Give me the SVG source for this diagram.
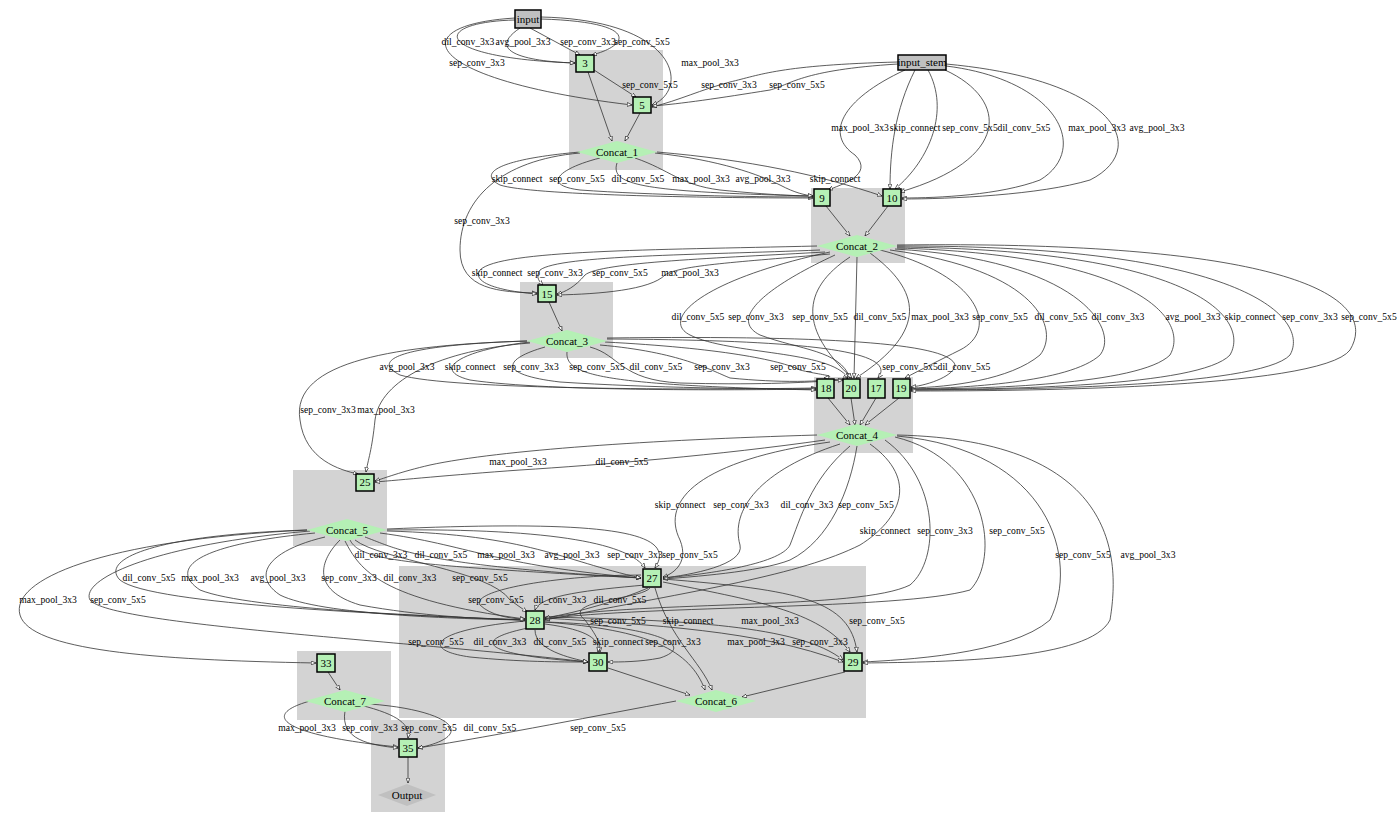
<svg xmlns="http://www.w3.org/2000/svg" width="1400" height="825" viewBox="0 0 1400 825">
<defs>
<marker id="a" viewBox="0 0 10 10" refX="10" refY="5" markerWidth="6" markerHeight="6" orient="auto"><path d="M0,1 L10,5 L0,9 Z" fill="#fff" stroke="#000" stroke-width="1.2"/></marker>
<style>
.c{fill:#d3d3d3}
.e path{fill:none;stroke:#333;stroke-width:0.8;marker-end:url(#a)}
.b{fill:#b5f0b5;stroke:#000;stroke-width:1.5}
.g{fill:#c0c0c0;stroke:#000;stroke-width:1.5}
.d{fill:#b5f0b5}
text{font-family:"Liberation Serif",serif;font-size:9.6px;fill:#000}
.l text{text-anchor:middle}
.n text{text-anchor:middle;font-size:11px}
</style>
</defs>
<rect width="1400" height="825" fill="#fff"/>
<g id="clusters">
<rect class="c" x="569" y="50" width="94" height="120"/>
<rect class="c" x="811" y="188" width="94" height="75"/>
<rect class="c" x="520" y="282" width="93" height="76"/>
<rect class="c" x="814" y="377" width="99" height="76"/>
<rect class="c" x="293" y="470" width="94" height="76"/>
<rect class="c" x="399" y="566" width="467" height="152"/>
<rect class="c" x="297" y="651" width="94" height="69"/>
<rect class="c" x="371" y="720" width="74" height="92"/>
</g>
<g id="connectors" class="e">
<path d="M515,20 C430,22 430,58 575,63"/>
<path d="M520,28 C480,55 540,62 575,63"/>
<path d="M530,28 L580,55"/>
<path d="M541,19 C640,22 630,45 592,55"/>
<path d="M515,18 C400,25 420,80 632,105"/>
<path d="M541,17 C680,20 690,90 652,105"/>
<path d="M594,70 L636,97"/>
<path d="M898,62 C780,65 760,75 730,82 C700,90 680,100 652,107"/>
<path d="M898,64 C800,70 790,85 770,90 C720,98 680,104 652,106"/>
<path d="M588,72 L612,141"/>
<path d="M640,113 L625,141"/>
<path d="M905,70 C840,100 825,135 855,155 C875,175 840,185 828,190"/>
<path d="M915,70 C895,110 890,150 890,189"/>
<path d="M928,70 C950,110 930,160 895,189"/>
<path d="M945,70 C1010,100 1010,160 900,192"/>
<path d="M946,66 C1060,80 1090,150 1040,180 C1000,195 940,198 902,198"/>
<path d="M946,64 C1120,80 1150,150 1090,180 C1040,195 950,199 902,199"/>
<path d="M580,152 C490,160 480,175 500,185 C530,195 700,198 813,198"/>
<path d="M600,158 C560,168 540,185 580,190 C650,195 750,197 813,197"/>
<path d="M617,163 C610,185 640,192 813,196"/>
<path d="M635,158 C670,170 680,185 720,190 C770,195 800,196 813,196"/>
<path d="M655,153 C720,160 760,175 780,185 C795,193 805,195 813,196"/>
<path d="M657,152 C750,160 820,175 882,196"/>
<path d="M580,153 C500,160 460,200 460,250 C460,290 500,292 537,293"/>
<path d="M826,206 L850,236"/>
<path d="M888,206 L865,236"/>
<path d="M817,246 C650,250 500,250 480,270 C470,285 510,292 537,294"/>
<path d="M820,250 C700,255 560,255 540,270 C535,278 540,282 543,285"/>
<path d="M825,252 C720,258 600,262 585,275 C575,287 565,292 557,294"/>
<path d="M830,254 C740,262 680,265 665,275 C650,290 600,294 557,295"/>
<path d="M830,252 C700,280 660,320 690,335 C730,355 830,350 848,378"/>
<path d="M835,255 C760,290 730,320 760,335 C800,350 840,350 850,378"/>
<path d="M850,257 C800,290 800,330 852,378"/>
<path d="M857,257 L854,378"/>
<path d="M870,253 C920,290 930,330 856,378"/>
<path d="M880,250 C980,275 1000,330 960,350 C940,360 920,370 905,378"/>
<path d="M890,250 C1040,270 1060,330 1040,355 C1010,380 950,387 911,388"/>
<path d="M895,249 C1080,260 1120,330 1100,355 C1070,383 960,388 911,389"/>
<path d="M897,248 C1140,255 1190,320 1170,355 C1140,385 980,389 911,389"/>
<path d="M897,247 C1200,250 1250,320 1230,355 C1200,387 1000,389 911,390"/>
<path d="M897,246 C1250,245 1310,320 1290,355 C1260,388 1000,390 911,390"/>
<path d="M897,245 C1300,240 1380,300 1350,350 C1320,390 1000,391 911,391"/>
<path d="M549,302 L562,331"/>
<path d="M527,341 C400,345 370,360 400,375 C450,390 700,390 816,388"/>
<path d="M530,342 C460,350 430,370 470,380 C550,392 750,390 816,389"/>
<path d="M545,347 C500,360 500,375 560,382 C650,388 760,389 816,389"/>
<path d="M567,352 C565,375 600,385 816,390"/>
<path d="M590,347 C620,355 620,380 680,383 C750,385 800,383 843,380"/>
<path d="M600,345 C680,352 710,370 730,378 C780,383 820,382 848,378"/>
<path d="M605,342 C720,348 780,360 800,370 C820,375 840,376 824,378"/>
<path d="M607,339 C800,340 900,350 878,378"/>
<path d="M607,338 C850,335 950,345 955,365 C955,375 930,385 911,387"/>
<path d="M527,341 C400,345 290,360 300,420 C305,460 340,470 358,474"/>
<path d="M530,343 C440,350 380,380 375,420 C372,450 368,460 366,472"/>
<path d="M828,398 L850,425"/>
<path d="M851,398 L855,425"/>
<path d="M876,398 L860,425"/>
<path d="M899,398 L865,425"/>
<path d="M817,435 C650,440 500,450 430,465 C400,472 385,478 375,481"/>
<path d="M825,440 C720,455 600,465 520,470 C450,475 400,480 375,482"/>
<path d="M830,442 C700,460 660,500 680,540 C690,565 670,575 663,577"/>
<path d="M840,444 C760,470 730,510 740,545 C745,565 690,575 663,578"/>
<path d="M850,446 C810,480 800,520 790,545 C780,565 700,575 663,578"/>
<path d="M857,446 C850,490 830,540 790,560 C760,572 690,577 663,579"/>
<path d="M870,444 C920,480 900,520 860,545 C800,575 700,590 545,620"/>
<path d="M885,440 C940,480 940,560 910,585 C860,610 650,600 545,618"/>
<path d="M895,437 C990,460 1000,560 970,590 C900,610 650,605 545,619"/>
<path d="M897,436 C1050,450 1080,560 1050,620 C1010,655 900,660 863,662"/>
<path d="M897,435 C1120,440 1120,560 1110,620 C1090,660 950,662 863,663"/>
<path d="M350,540 C360,560 400,565 641,578"/>
<path d="M365,537 C400,550 420,565 641,578"/>
<path d="M380,533 C470,545 490,565 641,578"/>
<path d="M387,531 C530,535 560,560 641,578"/>
<path d="M387,530 C560,528 630,545 645,568"/>
<path d="M387,529 C600,520 680,530 655,568"/>
<path d="M307,530 C150,535 100,560 120,580 C150,605 400,615 525,620"/>
<path d="M315,533 C190,545 170,570 200,590 C250,610 450,617 525,620"/>
<path d="M325,537 C270,550 250,575 280,595 C320,615 460,619 525,620"/>
<path d="M340,540 C320,560 310,590 360,605 C420,616 480,619 525,620"/>
<path d="M345,541 C360,570 380,600 525,619"/>
<path d="M355,540 C380,560 490,570 510,600 L527,612"/>
<path d="M307,530 C100,540 10,580 20,615 C30,650 150,660 316,663"/>
<path d="M310,531 C150,545 80,580 90,600 C110,625 400,640 588,662"/>
<path d="M641,575 C560,575 470,590 480,605 C490,615 510,619 525,619"/>
<path d="M645,585 C590,590 540,595 535,610"/>
<path d="M648,588 C620,600 580,612 545,618"/>
<path d="M650,588 C640,600 560,600 585,620 C600,640 600,645 600,652"/>
<path d="M655,588 C670,640 700,660 712,690"/>
<path d="M663,582 C750,600 820,610 850,652"/>
<path d="M663,579 C800,590 850,600 857,652"/>
<path d="M525,621 C430,630 420,650 470,657 C520,662 560,662 588,662"/>
<path d="M528,628 C470,640 480,655 588,662"/>
<path d="M535,630 C535,650 570,658 588,662"/>
<path d="M545,624 C590,630 600,640 598,652"/>
<path d="M545,622 C650,625 700,645 660,658 C640,662 620,662 608,662"/>
<path d="M545,618 C650,625 760,630 843,662"/>
<path d="M545,617 C680,620 800,625 843,660"/>
<path d="M545,622 C650,630 690,650 705,690"/>
<path d="M608,668 L690,695"/>
<path d="M845,672 L742,697"/>
<path d="M676,701 C600,715 500,735 418,748"/>
<path d="M328,672 L340,690"/>
<path d="M310,701 C260,715 280,735 398,747"/>
<path d="M345,711 C340,740 370,745 398,748"/>
<path d="M360,705 C400,715 410,725 408,738"/>
<path d="M370,704 C450,710 480,735 418,748"/>
<path d="M408,757 L408,783"/>
</g>
<g id="labels" class="l">
<text x="468" y="45">dil_conv_3x3</text><text x="523" y="45">avg_pool_3x3</text><text x="588" y="45">sep_conv_3x3</text><text x="642" y="45">sep_conv_5x5</text>
<text x="477" y="66">sep_conv_3x3</text><text x="710" y="66">max_pool_3x3</text><text x="650" y="88">sep_conv_5x5</text>
<text x="729" y="88">sep_conv_3x3</text><text x="797" y="88">sep_conv_5x5</text>
<text x="860" y="131">max_pool_3x3</text><text x="915" y="131">skip_connect</text><text x="970" y="131">sep_conv_5x5</text><text x="1024" y="131">dil_conv_5x5</text><text x="1097" y="131">max_pool_3x3</text><text x="1157" y="131">avg_pool_3x3</text>
<text x="517" y="182">skip_connect</text><text x="577" y="182">sep_conv_5x5</text><text x="638" y="182">dil_conv_5x5</text><text x="701" y="182">max_pool_3x3</text><text x="763" y="182">avg_pool_3x3</text><text x="835" y="182">skip_connect</text>
<text x="482" y="224">sep_conv_3x3</text>
<text x="497" y="276">skip_connect</text><text x="555" y="276">sep_conv_3x3</text><text x="620" y="276">sep_conv_5x5</text><text x="690" y="276">max_pool_3x3</text>
<text x="698" y="320">dil_conv_5x5</text><text x="756" y="320">sep_conv_3x3</text><text x="820" y="320">sep_conv_5x5</text><text x="880" y="320">dil_conv_5x5</text><text x="940" y="320">max_pool_3x3</text><text x="1000" y="320">sep_conv_5x5</text><text x="1061" y="320">dil_conv_5x5</text><text x="1118" y="320">dil_conv_3x3</text><text x="1193" y="320">avg_pool_3x3</text><text x="1250" y="320">skip_connect</text><text x="1310" y="320">sep_conv_3x3</text><text x="1369" y="320">sep_conv_5x5</text>
<text x="407" y="370">avg_pool_3x3</text><text x="470" y="370">skip_connect</text><text x="531" y="370">sep_conv_3x3</text><text x="597" y="370">sep_conv_5x5</text><text x="656" y="370">dil_conv_5x5</text><text x="722" y="370">sep_conv_3x3</text><text x="798" y="370">sep_conv_5x5</text><text x="910" y="370">sep_conv_5x5</text><text x="964" y="370">dil_conv_5x5</text>
<text x="328" y="413">sep_conv_3x3</text><text x="386" y="413">max_pool_3x3</text>
<text x="518" y="465">max_pool_3x3</text><text x="622" y="465">dil_conv_5x5</text>
<text x="680" y="508">skip_connect</text><text x="741" y="508">sep_conv_3x3</text><text x="807" y="508">dil_conv_3x3</text><text x="866" y="508">sep_conv_5x5</text>
<text x="885" y="534">skip_connect</text><text x="945" y="534">sep_conv_3x3</text><text x="1017" y="534">sep_conv_5x5</text>
<text x="1083" y="558">sep_conv_5x5</text><text x="1148" y="558">avg_pool_3x3</text>
<text x="381" y="558">dil_conv_3x3</text><text x="441" y="558">dil_conv_5x5</text><text x="506" y="558">max_pool_3x3</text><text x="572" y="558">avg_pool_3x3</text><text x="635" y="558">sep_conv_3x3</text><text x="690" y="558">sep_conv_5x5</text>
<text x="149" y="581">dil_conv_5x5</text><text x="210" y="581">max_pool_3x3</text><text x="278" y="581">avg_pool_3x3</text><text x="349" y="581">sep_conv_3x3</text><text x="410" y="581">dil_conv_3x3</text><text x="480" y="581">sep_conv_5x5</text>
<text x="48" y="603">max_pool_3x3</text><text x="118" y="603">sep_conv_5x5</text>
<text x="496" y="603">sep_conv_5x5</text><text x="560" y="603">dil_conv_3x3</text><text x="620" y="603">dil_conv_5x5</text>
<text x="618" y="624">sep_conv_5x5</text><text x="688" y="624">skip_connect</text><text x="770" y="624">max_pool_3x3</text><text x="877" y="624">sep_conv_5x5</text>
<text x="436" y="645">sep_conv_5x5</text><text x="500" y="645">dil_conv_3x3</text><text x="560" y="645">dil_conv_5x5</text><text x="618" y="645">skip_connect</text><text x="673" y="645">sep_conv_3x3</text><text x="756" y="645">max_pool_3x3</text><text x="820" y="645">sep_conv_3x3</text>
<text x="307" y="731">max_pool_3x3</text><text x="370" y="731">sep_conv_3x3</text><text x="429" y="731">sep_conv_5x5</text><text x="490" y="731">dil_conv_5x5</text><text x="598" y="731">sep_conv_5x5</text>
</g>
<g class="n">
<g id="n_input"><rect class="g" x="515" y="10" width="26" height="18"/><text x="528" y="23">input</text></g>
<g id="n_input_stem"><rect class="g" x="898" y="55" width="48" height="15"/><text x="922" y="66">input_stem</text></g>
<g id="n3"><rect class="b" x="576" y="55" width="18" height="17"/><text x="585" y="67">3</text></g>
<g id="n5"><rect class="b" x="633" y="97" width="18" height="16"/><text x="642" y="109">5</text></g>
<g id="c1"><polygon class="d" points="577,152 617,141 657,152 617,163"/><text x="617" y="156">Concat_1</text></g>
<g id="n9"><rect class="b" x="814" y="189" width="16" height="17"/><text x="822" y="202">9</text></g>
<g id="n10"><rect class="b" x="883" y="189" width="18" height="17"/><text x="892" y="202">10</text></g>
<g id="c2"><polygon class="d" points="817,246 857,235 897,246 857,257"/><text x="857" y="250">Concat_2</text></g>
<g id="n15"><rect class="b" x="538" y="285" width="18" height="17"/><text x="547" y="298">15</text></g>
<g id="c3"><polygon class="d" points="527,341 567,330 607,341 567,352"/><text x="567" y="345">Concat_3</text></g>
<g id="n18"><rect class="b" x="817" y="379" width="17" height="19"/><text x="826" y="392">18</text></g>
<g id="n20"><rect class="b" x="843" y="379" width="17" height="19"/><text x="851" y="392">20</text></g>
<g id="n17"><rect class="b" x="868" y="379" width="17" height="19"/><text x="876" y="392">17</text></g>
<g id="n19"><rect class="b" x="893" y="379" width="17" height="19"/><text x="901" y="392">19</text></g>
<g id="c4"><polygon class="d" points="817,435 857,424 897,435 857,446"/><text x="857" y="439">Concat_4</text></g>
<g id="n25"><rect class="b" x="356" y="474" width="18" height="17"/><text x="365" y="486">25</text></g>
<g id="c5"><polygon class="d" points="307,530 347,519 387,530 347,541"/><text x="347" y="534">Concat_5</text></g>
<g id="n27"><rect class="b" x="643" y="569" width="18" height="18"/><text x="652" y="582">27</text></g>
<g id="n28"><rect class="b" x="526" y="611" width="18" height="18"/><text x="535" y="624">28</text></g>
<g id="n30"><rect class="b" x="589" y="653" width="18" height="18"/><text x="598" y="666">30</text></g>
<g id="n29"><rect class="b" x="844" y="653" width="18" height="18"/><text x="853" y="666">29</text></g>
<g id="c6"><polygon class="d" points="676,701 716,690 756,701 716,712"/><text x="716" y="705">Concat_6</text></g>
<g id="n33"><rect class="b" x="317" y="654" width="18" height="18"/><text x="326" y="667">33</text></g>
<g id="c7"><polygon class="d" points="305,701 345,690 385,701 345,712"/><text x="345" y="705">Concat_7</text></g>
<g id="n35"><rect class="b" x="399" y="739" width="18" height="18"/><text x="408" y="752">35</text></g>
<g id="out"><polygon fill="#c0c0c0" points="378,795 407,784 436,795 407,806"/><text x="407" y="799">Output</text></g>
</g>
</svg>
